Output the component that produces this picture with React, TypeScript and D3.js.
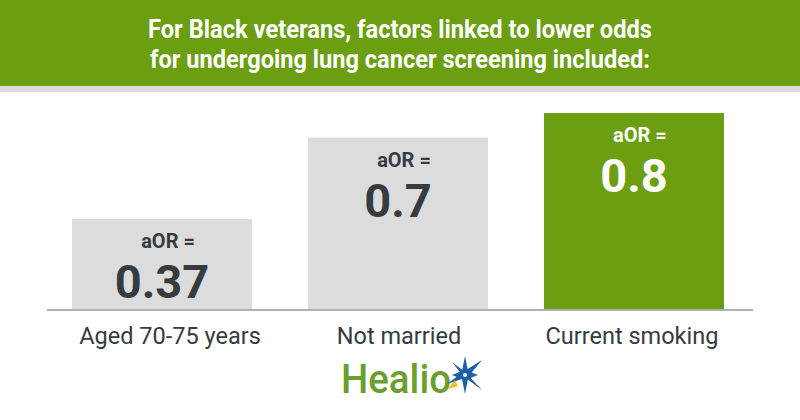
import React from "react";
import * as d3 from "d3";

const categories = ["Aged 70-75 years", "Not married", "Current smoking"];
const values = [0.37, 0.7, 0.8];
const valueLabels = ["0.37", "0.7", "0.8"];
const highlighted = [false, false, true];
const titleLines = [
  "For Black veterans, factors linked to lower odds",
  "for undergoing lung cancer screening included:",
];

const W = 800;
const H = 420;
const GREEN = "#6b9e10";
const GRAY = "#dcdcdc";
const DARK = "#353b3e";
const labelShift = [8, 1, -2];

export default function App() {
  const x = d3.scaleBand<string>().domain(categories).range([72, 724]).paddingInner(0.237).paddingOuter(0);
  const y = d3.scaleLinear().domain([0, 0.8]).range([310, 113]);
  const font = "Roboto, 'Noto Sans', sans-serif";

  return (
    <svg width={W} height={H} style={{ position: "absolute", left: 0, top: 0, display: "block" }}>
      <rect x={0} y={0} width={W} height={H} fill="#fff" />
      <rect x={0} y={0} width={W} height={86} fill={GREEN} />
      <rect x={0} y={86} width={W} height={6} fill={GRAY} />
      {titleLines.map((t, i) => (
        <text
          key={i}
          x={400}
          y={38 + i * 30}
          textAnchor="middle"
          fill="#fff"
          fontFamily={font}
          fontWeight={700}
          fontSize={25}
          textLength={i === 0 ? 504 : 500}
          lengthAdjust="spacingAndGlyphs"
        >
          {t}
        </text>
      ))}
      {categories.map((c, i) => {
        const bx = x(c)!;
        const bw = x.bandwidth();
        const top = y(values[i]);
        const cx = bx + bw / 2;
        const col = highlighted[i] ? "#fff" : DARK;
        return (
          <g key={c}>
            <rect x={bx} y={top} width={bw} height={y(0) - top} fill={highlighted[i] ? GREEN : GRAY} />
            <text x={cx + 6} y={top + 29} textAnchor="middle" fill={col} fontFamily={font} fontWeight={700} fontSize={20}>
              aOR =
            </text>
            <text x={cx} y={top + 79} textAnchor="middle" fill={col} fontFamily={font} fontWeight={700} fontSize={47}>
              {valueLabels[i]}
            </text>
            <text x={cx + labelShift[i]} y={344} textAnchor="middle" fill={DARK} fontFamily={font} fontSize={23.5}>
              {c}
            </text>
          </g>
        );
      })}
      <line x1={47} x2={753} y1={y(0)} y2={y(0)} stroke="#b0b0b0" strokeWidth={2} />
      <g>
        <text x={341} y={393} fill="#6a9f2e" fontFamily={font} fontSize={40} fontWeight={500} textLength={110} lengthAdjust="spacingAndGlyphs">
          Healio
        </text>
        <path d="M447,384 L463,372 L482,360 L468,377 Z" fill="#1f5fa3" />
        <path d="M452,362 L465,372 L482,390 L463,376 Z" fill="#1f5fa3" />
        <path d="M465,356 L468,371 L478,375 L468,379 L465,394 L462,379 L452,375 L462,371 Z" fill="#1f5fa3" />
        <circle cx={465} cy={375} r={2} fill="#fff" />
        <path d="M448,389 L455,380 L458,386 Z" fill="#e8c11c" />
      </g>
    </svg>
  );
}
